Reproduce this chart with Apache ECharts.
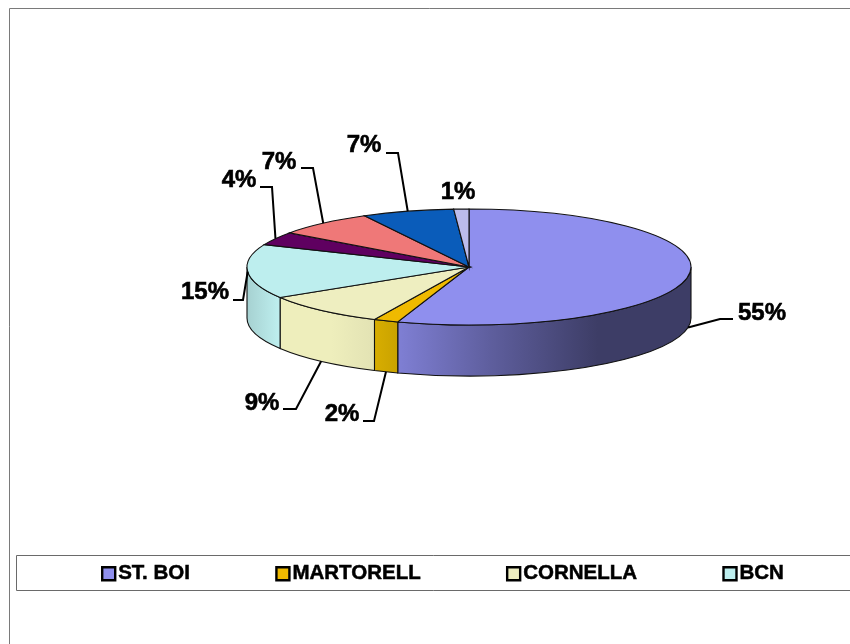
<!DOCTYPE html>
<html>
<head>
<meta charset="utf-8">
<style>html,body{margin:0;padding:0;background:#fff}#c{width:850px;height:644px}</style>
<script src="https://cdn.jsdelivr.net/npm/echarts@6/dist/echarts.min.js"></script>
</head>
<body>
<div id="c"></div>
<script>
var categories = ['ST. BOI','MARTORELL','CORNELLA','BCN','HOSPITALET','TERRASSA','SABADELL','OTROS'];
var legendShown = ['ST. BOI','MARTORELL','CORNELLA','BCN'];
var values = [55.2,1.8,9.2,15.1,3.7,7.2,6.7,1.1];
var topColors = ['#8f8fee','#efba00','#eeeec0','#bdeeee','#5f0060','#ef7878','#0a5cba','#bcbcec'];
var sideColors = ['#8f8fee','#e2b600','#eeeebc','#bdeeee','#5f0060','#ef7878','#0a5cba','#bcbcec'];
// leader-line elbow and tail, then label centre (pixels, presentation layout)
var leaderLayout = [
  [[720,319],[733,319],[762,313]],
  [[374,421],[363,421],[342,414]],
  [[296,409],[283,409],[262,403]],
  [[243,300],[233,300],[205,292]],
  [[272,187],[260,187],[239,180]],
  [[313,168],[301,168],[279,162]],
  [[398,153],[386,153],[364,145]],
  [null,null,[458,192]]
];
var CX=469, CY=267, RX=222, RY=58, DEPTH=51;
var shadeStops = [[0,0.88],[0.07,1],[0.19,1],[0.29,0.95],[0.34,0.89],[0.55,0.66],[0.79,0.43],[1,0.43]];

var total = values.reduce(function(a,b){return a+b;},0);
function pt(deg,dy){var r=deg*Math.PI/180;return [CX+RX*Math.sin(r),CY-RY*Math.cos(r)+(dy||0)];}
function shade(hex,f){
  var n=parseInt(hex.slice(1),16);
  var c=[n>>16,(n>>8)&255,n&255].map(function(v){return Math.round(v*f);});
  return 'rgb('+c.join(',')+')';
}
function arcCmd(to,sweep,large){return 'A'+RX+' '+RY+' 0 '+(large?1:0)+' '+sweep+' '+to[0]+' '+to[1];}

function renderSlice(index){
  return function(params,api){
    var before=0;
    for(var i=0;i<index;i++) before+=values[i];
    var a=before/total*360, val=api.value(0), b=a+val/total*360;
    var children=[];
    // side wall: only the part of the rim that faces the viewer
    var s=Math.max(a,90), e=Math.min(b,270);
    if(e>s){
      var p1=pt(s),p2=pt(e),p3=pt(e,DEPTH),p4=pt(s,DEPTH);
      var large=(e-s)>180;
      children.push({
        type:'path',
        shape:{pathData:'M'+p1[0]+' '+p1[1]+arcCmd(p2,1,large)+'L'+p3[0]+' '+p3[1]+arcCmd(p4,0,large)+'Z'},
        style:{
          fill:new echarts.graphic.LinearGradient(CX-RX,0,CX+RX,0,shadeStops.map(function(t){
            return {offset:t[0],color:shade(sideColors[index],t[1])};
          }),true),
          stroke:'#111',lineWidth:1.1
        }
      });
    }
    var q1=pt(a),q2=pt(b);
    children.push({
      type:'path',
      shape:{pathData:'M'+CX+' '+CY+'L'+q1[0]+' '+q1[1]+arcCmd(q2,1,(b-a)>180)+'Z'},
      style:{fill:topColors[index],stroke:'#111',lineWidth:1.1}
    });
    var mid=(a+b)/2, lay=leaderLayout[index];
    if(lay[0]){
      var anchor=pt(mid,(mid>90&&mid<262)?DEPTH:0);
      children.push({type:'polyline',shape:{points:[anchor,lay[0],lay[1]]},
        style:{fill:null,stroke:'#000',lineWidth:2}});
    }
    children.push({type:'text',x:lay[2][0],y:lay[2][1],style:{
      text:Math.round(val/total*100)+'%',
      font:'bold 24px "Liberation Sans", Arial, sans-serif',
      fill:'#000',stroke:'#000',lineWidth:0.6,align:'center',verticalAlign:'middle'}});
    return {type:'group',children:children};
  };
}

var chart=echarts.init(document.getElementById('c'),null,{renderer:'canvas'});
chart.setOption({
  animation:false,
  backgroundColor:'#fff',
  color:topColors,
  graphic:[
    {type:'polyline',silent:true,z:-1,shape:{points:[[9.5,644],[9.5,8.5],[850,8.5]]},style:{fill:null,stroke:'#7a7a7a',lineWidth:1}},
    {type:'polyline',silent:true,z:-1,shape:{points:[[850,555.5],[16.5,555.5],[16.5,590.5],[850,590.5]]},style:{fill:null,stroke:'#6a6a6a',lineWidth:1}}
  ],
  legend:{
    data:legendShown,
    left:101,top:563,
    orient:'horizontal',
    padding:0,
    itemWidth:13,itemHeight:13,itemGap:85,
    icon:'rect',
    itemStyle:{borderColor:'#000',borderWidth:2.4},
    selectedMode:false,
    textStyle:{fontFamily:'"Liberation Sans", Arial, sans-serif',fontWeight:'bold',fontSize:20.5,color:'#000',textBorderColor:'#000',textBorderWidth:0.5,padding:[0,0,0,-2]}
  },
  series:categories.map(function(name,i){
    return {type:'custom',name:name,coordinateSystem:'none',silent:true,
      data:[[values[i]]],
      encode:{value:0},
      itemStyle:{color:topColors[i]},
      renderItem:renderSlice(i)};
  })
});
</script>
</body>
</html>
